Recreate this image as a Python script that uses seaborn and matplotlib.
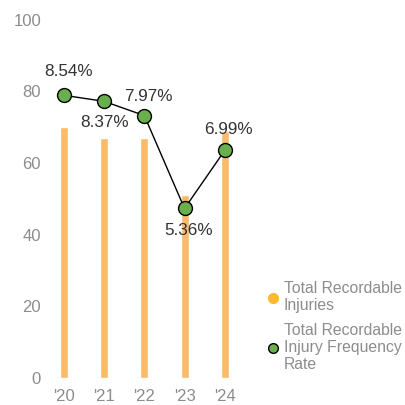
import pandas as pd
import seaborn as sns
import matplotlib.pyplot as plt
from matplotlib.lines import Line2D

# Data
years = ["'20", "'21", "'22", "'23", "'24"]
injuries = [70, 67, 67, 51, 69]
frequency_rate = [8.54, 8.37, 7.97, 5.36, 6.99]
rate_labels = ["8.54%", "8.37%", "7.97%", "5.36%", "6.99%"]

BAR_COLOR = "#F9BA6C"
LEGEND_BAR = "#FDBA2C"
GREEN = "#6AAF4E"
GRAY = "#8C8C8C"
DARK = "#333333"

sns.set_style("white")
plt.rcParams["font.family"] = ["Liberation Sans", "DejaVu Sans"]

df = pd.DataFrame({"year": years, "injuries": injuries, "rate": frequency_rate})

fig = plt.figure(figsize=(4.06, 4.05), dpi=100)
ax = fig.add_axes([0.108, 0.067, 0.495, 0.884])

sns.barplot(data=df, x="year", y="injuries", color=BAR_COLOR, width=0.2,
            saturation=1, ax=ax)
ax.set_ylim(0, 100)
ax.set_xlim(-0.5, 4.5)
ax.set_yticks(range(0, 101, 20))
ax.set_xlabel("")
ax.set_ylabel("")
ax.tick_params(axis="both", colors=GRAY, labelsize=12, length=0)
ax.tick_params(axis="y", pad=2)
ax.tick_params(axis="x", pad=8)
sns.despine(ax=ax, left=True, bottom=True)

# frequency rate on a hidden secondary scale
ax2 = ax.twinx()
df["pos"] = range(len(years))
sns.lineplot(data=df, x="pos", y="rate", color="black", linewidth=1,
             marker="o", markersize=10, markerfacecolor=GREEN,
             markeredgecolor="black", markeredgewidth=1, ax=ax2)
ax2.set_ylim(0.6, 10.66)
ax2.set_xlim(-0.5, 4.5)
ax2.set_yticks([])
ax2.set_ylabel("")
ax2.set_xlabel("")
sns.despine(ax=ax2, left=True, bottom=True, right=True)

# value labels: offsets in points (dx, dy)
offsets = [(3, 17), (0, -15), (3, 14), (3, -16), (3, 15)]
for i, (val, lab) in enumerate(zip(frequency_rate, rate_labels)):
    ax2.annotate(lab, (i, val), xytext=offsets[i], textcoords="offset points",
                 ha="center", va="center", fontsize=12.3, color=DARK)

handles = [
    Line2D([], [], marker="o", linestyle="", markersize=7,
           markerfacecolor=LEGEND_BAR, markeredgecolor=LEGEND_BAR),
    Line2D([], [], marker="o", linestyle="", markersize=7,
           markerfacecolor=GREEN, markeredgecolor="black"),
]
fig.legend(handles, ["Total Recordable\nInjuries",
                     "Total Recordable\nInjury Frequency\nRate"],
           loc="upper left", bbox_to_anchor=(0.635, 0.322), frameon=False,
           fontsize=11.3, labelcolor=GRAY, handletextpad=0.15, handlelength=1.1,
           labelspacing=0.6, borderaxespad=0)

fig.savefig("out.png", dpi=100)
